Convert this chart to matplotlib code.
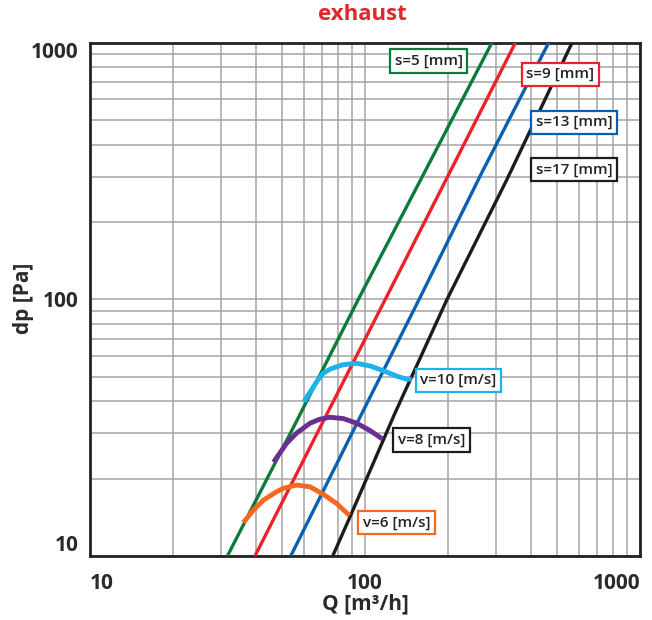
import matplotlib
matplotlib.use('Agg')
import matplotlib.pyplot as plt
from matplotlib.ticker import LogLocator, NullFormatter
import numpy as np

plt.rcParams['font.family'] = ['Open Sans', 'DejaVu Sans']

# ---- data (Q [m3/h], dp [Pa]) ----
s5_q = [31.6, 56.7, 94.3, 159.2, 292.7]
s5_dp = [10, 33.9, 99.3, 291.4, 1022]

s9_q = [39.8, 70.9, 118.2, 214.3, 356.2]
s9_dp = [10, 33.9, 99.3, 348.6, 1022]

s13_q = [53.7, 93.5, 156.9, 265.2, 470.8]
s13_dp = [10, 32.9, 99.3, 309.5, 1022]

s17_q = [76.3, 88.2, 128.5, 198.2, 327.5, 572.2]
s17_dp = [10, 14.2, 36.0, 99.3, 291.4, 1022]

v10_q = [60.0, 67.1, 70.5, 74.6, 78.9, 83.4, 93.3, 104.3, 116.5, 130.4, 141.8, 147.9]
v10_dp = [39.9, 48.2, 51.5, 53.4, 54.6, 55.6, 56.3, 55.0, 52.7, 50.2, 48.8, 48.8]

v8_q = [46.5, 48.4, 51.9, 56.4, 63.1, 68.5, 74.6, 83.4, 93.3, 104.3, 116.0]
v8_dp = [23.2, 24.7, 27.5, 30.1, 32.9, 34.1, 34.7, 34.3, 32.9, 30.8, 28.5]

v6_q = [36.1, 39.3, 42.7, 47.7, 50.5, 56.4, 63.1, 70.5, 78.9, 87.7]
v6_dp = [13.5, 15.1, 16.5, 17.8, 18.35, 18.9, 18.6, 17.4, 16.0, 14.4]

s_labels = ['s=5 [mm]', 's=9 [mm]', 's=13 [mm]', 's=17 [mm]']
v_labels = ['v=10 [m/s]', 'v=8 [m/s]', 'v=6 [m/s]']
tick_values = [10, 100, 1000]
tick_labels = ['10', '100', '1000']

# ---- styling ----
c_green = '#0b7a3b'
c_red = '#ec2229'
c_blue = '#0b5fb3'
c_black = '#1c1c1c'
c_cyan = '#1cb2ea'
c_purple = '#6a2d91'
c_orange = '#f26a21'

fig = plt.figure(figsize=(6.52, 6.20), dpi=100)
ax = fig.add_axes([90/652, 1-556/620, 550/652, 513.5/620])
ax.set_xscale('log')
ax.set_yscale('log')
ax.set_xlim(10, 1000)
ax.set_ylim(10, 1000)

for q, dp, c in [(s5_q, s5_dp, c_green), (s9_q, s9_dp, c_red),
                 (s13_q, s13_dp, c_blue), (s17_q, s17_dp, c_black)]:
    ax.plot(q, dp, color=c, lw=2.4, solid_capstyle='butt',
            solid_joinstyle='round', zorder=3)

for q, dp, c in [(v10_q, v10_dp, c_cyan), (v8_q, v8_dp, c_purple), (v6_q, v6_dp, c_orange)]:
    ax.plot(q, dp, color=c, lw=3.5, solid_capstyle='butt',
            solid_joinstyle='round', zorder=4)

ax.xaxis.set_minor_locator(LogLocator(base=10, subs=np.arange(2, 10)))
ax.yaxis.set_minor_locator(LogLocator(base=10, subs=np.arange(2, 10)))
ax.xaxis.set_minor_formatter(NullFormatter())
ax.yaxis.set_minor_formatter(NullFormatter())
ax.set_xticks(tick_values)
ax.set_xticklabels(tick_labels)
ax.set_yticks(tick_values)
ax.set_yticklabels(tick_labels)
ax.tick_params(which='both', length=0)
ax.tick_params(axis='x', pad=12, labelsize=15, colors='#2a2a2a')
ax.tick_params(axis='y', pad=8, labelsize=15, colors='#2a2a2a')
for lbl in ax.get_xticklabels() + ax.get_yticklabels():
    lbl.set_fontweight('bold')
xl = ax.get_xticklabels()
xl[0].set_horizontalalignment('left')
xl[-1].set_horizontalalignment('right')
yl = ax.get_yticklabels()
yl[0].set_verticalalignment('bottom')
yl[-1].set_verticalalignment('top')

ax.grid(True, which='both', color='#a4a4a4', lw=1.1, zorder=1)
ax.set_axisbelow(True)
for sp in ax.spines.values():
    sp.set_linewidth(2.0)
    sp.set_color('#222222')

box_pos = [(0.616, 0.964), (0.855, 0.938), (0.88, 0.845), (0.88, 0.752)]
for (x, y), t, c in zip(box_pos, s_labels, [c_green, c_red, c_blue, c_black]):
    ax.text(x, y, t, transform=ax.transAxes, ha='center', va='center',
            fontsize=11, fontweight='semibold', color='#222222', zorder=6,
            bbox=dict(boxstyle='square,pad=0.3', fc='white', ec=c, lw=1.6))

vbox_pos = [(0.670, 0.342), (0.621, 0.226), (0.557, 0.065)]
for (x, y), t, c in zip(vbox_pos, v_labels, [c_cyan, c_black, c_orange]):
    ax.text(x, y, t, transform=ax.transAxes, ha='center', va='center',
            fontsize=11, fontweight='semibold', color='#222222', zorder=6,
            bbox=dict(boxstyle='square,pad=0.3', fc='white', ec=c, lw=1.6))

fig.text(362/652, 1-14/620, 'exhaust', color='#e3262b', fontsize=16,
         fontweight='bold', ha='center', va='center')
fig.text(24/652, 1-298/620, 'dp [Pa]', rotation=90, fontsize=15,
         fontweight='bold', ha='center', va='center', color='#2a2a2a')
fig.text(365/652, 1-604/620, 'Q [m³/h]', fontsize=15,
         fontweight='bold', ha='center', va='center', color='#2a2a2a')

fig.savefig('out.png', dpi=100)
